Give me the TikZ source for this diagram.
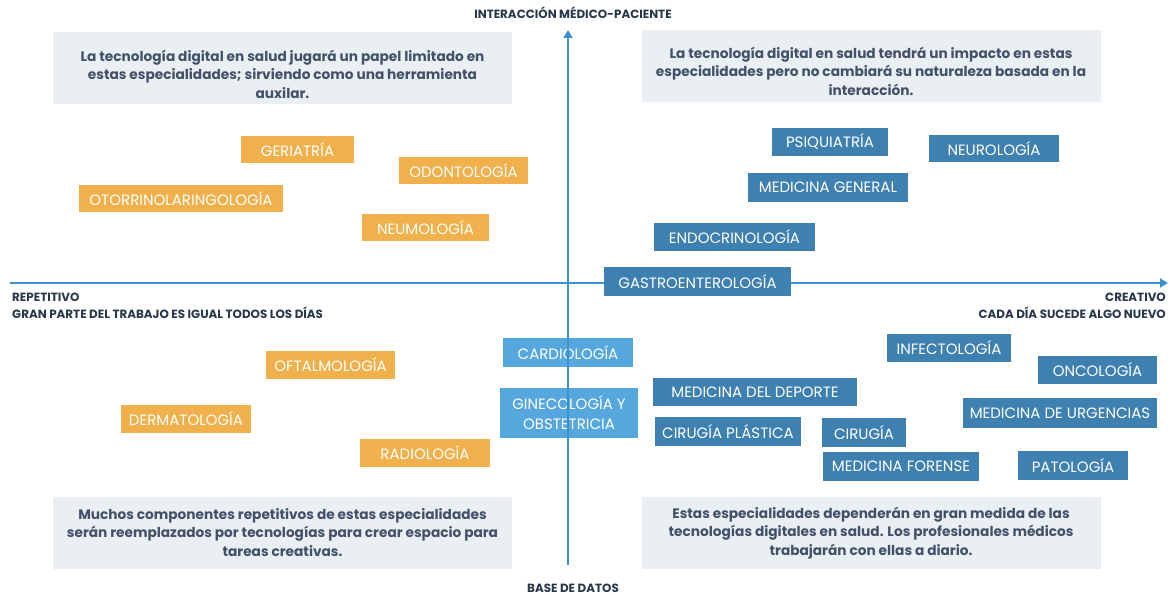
\documentclass[tikz,border=0pt]{standalone}
\usepackage{fontspec}
\setmainfont{Poppins}
\usetikzlibrary{arrows.meta}
\definecolor{orangebox}{RGB}{240,176,75}
\definecolor{darkbox}{RGB}{62,128,176}
\definecolor{lightbox}{RGB}{86,167,221}
\definecolor{graybox}{RGB}{234,239,243}
\definecolor{axisblue}{RGB}{58,145,208}
\definecolor{bodytext}{RGB}{66,80,106}
\definecolor{labeltext}{RGB}{40,55,75}
\begin{document}
\begin{tikzpicture}[x=1pt,y=-1pt,
  spec/.style={inner sep=0pt, text=white, font=\fontsize{15}{20}\selectfont, align=center},
  orangespec/.style={spec, fill=orangebox},
  darkspec/.style={spec, fill=darkbox},
  lightspec/.style={spec, fill=lightbox},
  notebox/.style={fill=graybox, inner sep=0pt, minimum width=459pt, minimum height=72pt},
  notetext/.style={inner sep=0pt, text=bodytext, align=center, font=\bfseries\fontsize{13.7}{18.5}\selectfont},
  axislabel/.style={inner sep=0pt, text=labeltext, font=\fontsize{11.9}{17}\selectfont\bfseries},
  axisline/.style={draw=axisblue, line width=2.2pt, -{Triangle[length=8pt,width=9pt]}}
]
\useasboundingbox (0,0) rectangle (1173,596);
\fill[white] (0,0) rectangle (1173,596);

% notes
\node[notebox] (btl) at (282.5,68.5) {};
\node[notetext] (ntl) at (282.5,74) {La tecnología digital en salud jugará un papel limitado en\\ estas especialidades; sirviendo como una herramienta\\ auxilar.};
\node[notebox] (btr) at (871,66) {};
\node[notetext] (ntr) at (871,71) {La tecnología digital en salud tendrá un impacto en estas\\ especialidades pero no cambiará su naturaleza basada en la\\ interacción.};
\node[notebox] (bbl) at (282.5,532.5) {};
\node[notetext] (nbl) at (282.5,532.5) {Muchos componentes repetitivos de estas especialidades\\ serán reemplazados por tecnologías para crear espacio para\\ tareas creativas.};
\node[notebox] (bbr) at (871,533) {};
\node[notetext] (nbr) at (871,533) {Estas especialidades dependerán en gran medida de las\\ tecnologías digitales en salud. Los profesionales médicos\\ trabajarán con ellas a diario.};

% light boxes under vertical axis
\node[lightspec, minimum width=130pt, minimum height=29pt] (card) at (568,352.5) {CARDIOLOGÍA};
\node[lightspec, minimum width=138pt, minimum height=50pt] (gine) at (569,413) {GINECOLOGÍA Y\\ OBSTETRICIA};

% axes
\coordinate (vbot) at (568,565);
\coordinate (vtop) at (568,30);
\coordinate (hleft) at (10,283);
\coordinate (hright) at (1168,283);
\draw[axisline] (vbot) -- (vtop);
\draw[axisline] (hleft) -- (hright);

\node[axislabel, anchor=south] (ytop) at (573,19) {INTERACCIÓN MÉDICO-PACIENTE};
\node[axislabel, anchor=south] (ybot) at (573,593) {BASE DE DATOS};
\node[axislabel, anchor=north west, align=left] (xl) at (12,293) {REPETITIVO\\GRAN PARTE DEL TRABAJO ES IGUAL TODOS LOS DÍAS};
\node[axislabel, anchor=north east, align=right] (xr) at (1166,293) {CREATIVO\\CADA DÍA SUCEDE ALGO NUEVO};

% orange
\node[orangespec, minimum width=113pt, minimum height=27pt] (ger) at (297.5,149.5) {GERIATRÍA};
\node[orangespec, minimum width=129pt, minimum height=27pt] (odo) at (463.5,170.5) {ODONTOLOGÍA};
\node[orangespec, minimum width=204pt, minimum height=27pt] (oto) at (181,198.5) {OTORRINOLARINGOLOGÍA};
\node[orangespec, minimum width=127pt, minimum height=27pt] (neu) at (425.5,227.5) {NEUMOLOGÍA};
\node[orangespec, minimum width=129pt, minimum height=28pt] (oft) at (330.5,365) {OFTALMOLOGÍA};
\node[orangespec, minimum width=130pt, minimum height=28pt] (der) at (186,419) {DERMATOLOGÍA};
\node[orangespec, minimum width=130pt, minimum height=28pt] (rad) at (425,453) {RADIOLOGÍA};

% dark blue
\node[darkspec, minimum width=116pt, minimum height=28pt] (psi) at (830,142) {PSIQUIATRÍA};
\node[darkspec, minimum width=130pt, minimum height=27pt] (neur) at (994,148.5) {NEUROLOGÍA};
\node[darkspec, minimum width=160pt, minimum height=29pt] (mg) at (828,187.5) {MEDICINA GENERAL};
\node[darkspec, minimum width=161pt, minimum height=28pt] (endo) at (734.5,237) {ENDOCRINOLOGÍA};
\node[darkspec, minimum width=187pt, minimum height=29pt] (gas) at (697.5,281.5) {GASTROENTEROLOGÍA};
\node[darkspec, minimum width=124pt, minimum height=28pt] (inf) at (949,348) {INFECTOLOGÍA};
\node[darkspec, minimum width=119pt, minimum height=28pt] (onc) at (1097.5,370) {ONCOLOGÍA};
\node[darkspec, minimum width=204pt, minimum height=28pt] (dep) at (755,392) {MEDICINA DEL DEPORTE};
\node[darkspec, minimum width=194pt, minimum height=30pt] (urg) at (1060,413) {MEDICINA DE URGENCIAS};
\node[darkspec, minimum width=146pt, minimum height=29pt] (pla) at (728,431.5) {CIRUGÍA PLÁSTICA};
\node[darkspec, minimum width=84pt, minimum height=29pt] (cir) at (864,432.5) {CIRUGÍA};
\node[darkspec, minimum width=156pt, minimum height=29pt] (for) at (901,466.5) {MEDICINA FORENSE};
\node[darkspec, minimum width=110pt, minimum height=29pt] (pat) at (1073,465.5) {PATOLOGÍA};
\end{tikzpicture}
\end{document}
